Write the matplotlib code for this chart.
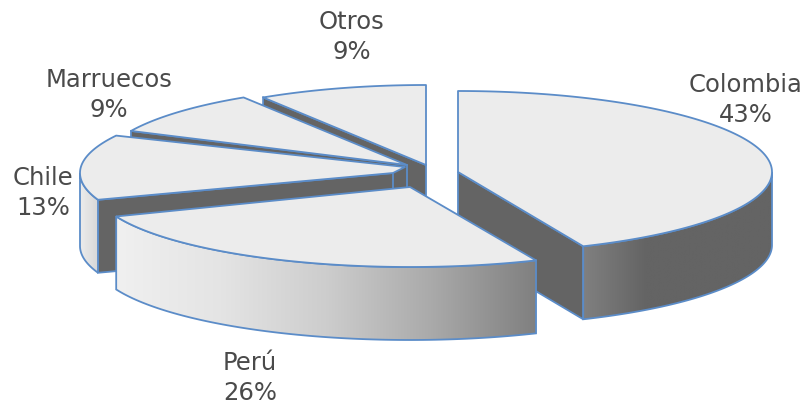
import numpy as np
import matplotlib
matplotlib.use("Agg")
import matplotlib.pyplot as plt
from matplotlib.patches import Polygon
from matplotlib.colors import LinearSegmentedColormap

# data, clockwise from 12 o'clock
names = ["Colombia", "Perú", "Chile", "Marruecos", "Otros"]
values = [43, 26, 13, 9, 9]

# layout of each exploded slice, in pixels
apex_x = [458, 410, 400, 407, 426]
apex_y = [172, 187, 173, 165, 165]
radius_x = [314, 316, 320, 305, 304]
radius_y = [81, 80, 81, 80, 80]
turn = [0, 0, 2.3, 0, 0]
label_x = [746, 250, 43, 109, 352]
label_y = [100, 378, 193, 95, 37]
draw_order = [4, 3, 2, 0, 1]
side_stops = [
    ["#808080", "#646464", "#646464", "#646464"],
    ["#f0f0f0", "#e4e4e4", "#cdcdcd", "#aaaaaa", "#808080"],
    ["#ececec", "#d8d8d8"],
    ["#646464", "#646464"],
    ["#646464", "#646464"],
]

HEIGHT = 73
TOP = "#ececec"
DARK = "#646464"
EDGE = "#5b8cc8"
LW = 1.3


def warp(deg):
    # foreshortening of the front right part
    deg = np.asarray(deg, dtype=float)
    return deg + np.where((deg > 90) & (deg < 180), -2.2 * np.sin(np.radians(2 * deg)), 0)


def rim(i, deg):
    t = np.radians(warp(deg) + turn[i])
    return apex_x[i] + radius_x[i] * np.sin(t), apex_y[i] - radius_y[i] * np.cos(t)


def draw_slice(ax, i, start, end, z):
    px, py = apex_x[i], apex_y[i]
    # chile is cut short at the tip
    low_x, low_y, tip_x, tip_y = px, py, px, py
    if i == 2:
        low_x, low_y, tip_x, tip_y = px - 7, py, px + 5, py - 6

    # flat cut faces turned to the viewer
    for ang, normal in ((start, start - 90), (end, end + 90)):
        if np.cos(np.radians(normal)) < -1e-6:
            ex, ey = rim(i, ang)
            ax.add_patch(Polygon([(low_x, low_y), (ex, ey), (ex, ey + HEIGHT), (low_x, low_y + HEIGHT)],
                                 fc=DARK, ec=EDGE, lw=LW, zorder=z))

    # outer wall, gradient clipped to it
    a, b = max(start, 90), min(end, 270 - turn[i])
    if a < b:
        t = np.linspace(a, b, 80)
        x, y = rim(i, t)
        pts = np.r_[np.c_[x, y], np.c_[x, y + HEIGHT][::-1]]
        wall = Polygon(pts, fc="none", ec=EDGE, lw=LW, zorder=z + 0.2)
        ax.add_patch(wall)
        cmap = LinearSegmentedColormap.from_list("side", side_stops[i])
        im = ax.imshow(np.linspace(0, 1, 256).reshape(1, -1), cmap=cmap, aspect="auto",
                       extent=(x.min(), x.max(), pts[:, 1].max(), pts[:, 1].min()),
                       zorder=z + 0.1, interpolation="bilinear")
        im.set_clip_path(Polygon(pts, transform=ax.transData))

    # top
    t = np.linspace(start, end, 160)
    x, y = rim(i, t)
    pts = np.c_[x, y]
    if i == 2:
        pts = np.r_[[(low_x, low_y)], pts, [(tip_x, tip_y)]]
    else:
        pts = np.r_[[(px, py)], pts]
    ax.add_patch(Polygon(pts, fc=TOP, ec=EDGE, lw=LW, zorder=z + 0.3, joinstyle="round"))


fig = plt.figure(figsize=(8.09, 4.05), dpi=100)
ax = fig.add_axes([0, 0, 1, 1])

bounds = np.r_[0, np.cumsum(values)] / np.sum(values) * 360
for n, i in enumerate(draw_order):
    draw_slice(ax, i, bounds[i], bounds[i + 1], 2 + n)

for i, name in enumerate(names):
    ax.text(label_x[i], label_y[i], f"{name}\n{values[i]}%", ha="center", va="center",
            fontsize=17.5, color="#4a4a4a", family="DejaVu Sans", linespacing=1.32, zorder=20)

ax.set_xlim(0, 809)
ax.set_ylim(405, 0)
ax.axis("off")
fig.savefig("out.png", dpi=100)
